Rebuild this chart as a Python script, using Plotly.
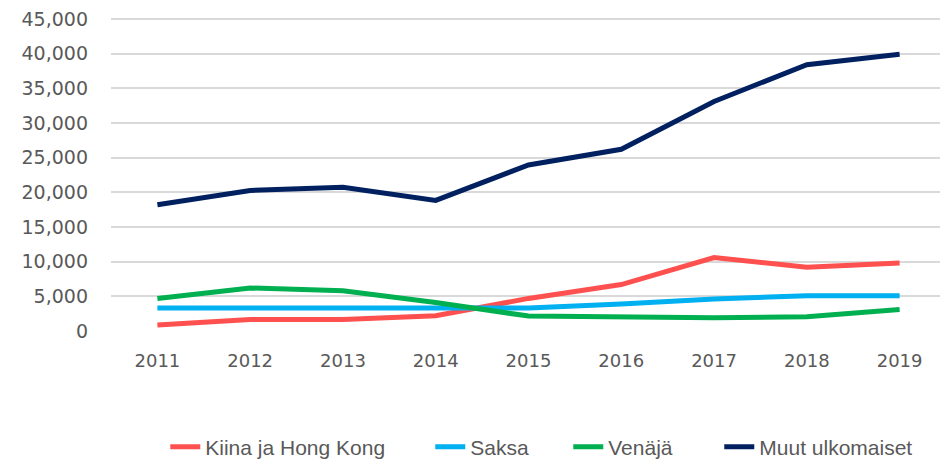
import plotly.graph_objects as go

years = ["2011", "2012", "2013", "2014", "2015", "2016", "2017", "2018", "2019"]
kiina = [850, 1650, 1650, 2200, 4700, 6700, 10600, 9200, 9800]
saksa = [3300, 3300, 3400, 3300, 3300, 3900, 4600, 5100, 5100]
venaja = [4700, 6200, 5800, 4100, 2150, 1950, 1900, 2050, 3100]
muut = [18200, 20260, 20740, 18830, 23950, 26200, 33100, 38400, 39900]

series = [
    ("Kiina ja Hong Kong", kiina, "#FF5050", 220),
    ("Saksa", saksa, "#00B0F0", 93),
    ("Venäjä", venaja, "#00B050", 106),
    ("Muut ulkomaiset", muut, "#002060", None),
]

fig = go.Figure()
for name, vals, col, lw in series:
    fig.add_trace(go.Scatter(x=years, y=vals, name=name, mode="lines",
                             line=dict(color=col, width=5), legendwidth=lw))

fig.update_layout(
    width=940, height=453,
    margin=dict(l=103, r=2, t=4, b=130, autoexpand=False),
    paper_bgcolor="white", plot_bgcolor="white",
    font=dict(family="DejaVu Sans", color="#595959", size=18),
    showlegend=True,
    legend=dict(orientation="h", x=0.065, xanchor="left", y=-0.364, yanchor="middle",
                font=dict(family="Liberation Sans, Arial, sans-serif", size=21, color="#595959"),
                traceorder="normal"),
    xaxis=dict(type="category", range=[-0.5, 8.5], showgrid=False, showline=False,
               ticks="", tickfont=dict(size=18), ticklabelstandoff=17),
    yaxis=dict(range=[0, 46000], tick0=0, dtick=5000, tickformat=",", showgrid=True,
               gridcolor="#D9D9D9", gridwidth=2, zeroline=False, showline=False,
               ticks="", tickfont=dict(size=19), ticklabelstandoff=22,
               ticklabeloverflow="allow"),
)

fig.write_html("out.html")
